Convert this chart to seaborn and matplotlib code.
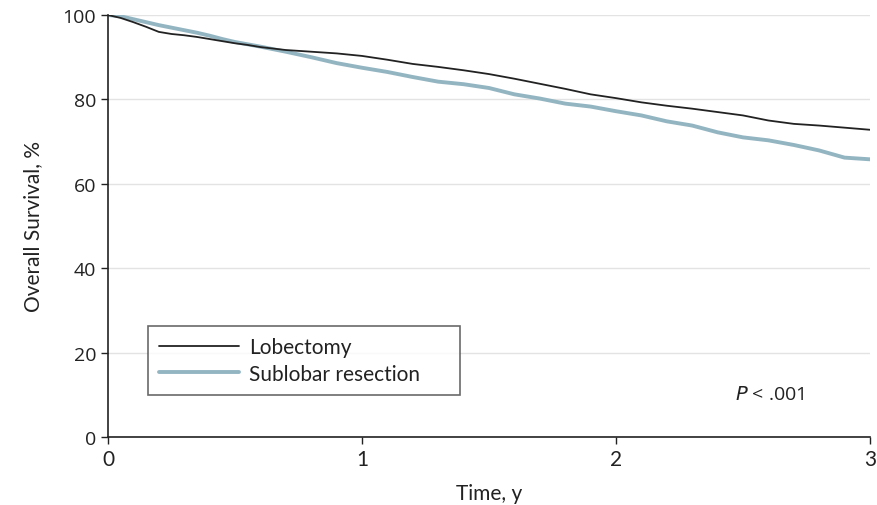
import matplotlib
matplotlib.use("Agg")
import matplotlib.pyplot as plt
import seaborn as sns
import pandas as pd

# Data (Kaplan-Meier style survival, %)
time_lob = [0, 0.05, 0.1, 0.15, 0.2, 0.25, 0.3, 0.35, 0.4, 0.45, 0.5, 0.55, 0.6, 0.7, 0.8, 0.9,
            1.0, 1.1, 1.2, 1.3, 1.4, 1.5, 1.6, 1.7, 1.8, 1.9, 2.0, 2.1, 2.2, 2.3, 2.4, 2.5,
            2.6, 2.7, 2.8, 2.9, 3.0]
surv_lob = [100, 99.3, 98.3, 97.2, 96.0, 95.5, 95.2, 94.8, 94.3, 93.8, 93.3, 92.9, 92.4, 91.7, 91.3, 90.9,
            90.3, 89.4, 88.4, 87.7, 86.9, 86.0, 84.9, 83.7, 82.5, 81.2, 80.3, 79.3, 78.5, 77.8, 77.0, 76.2,
            75.0, 74.2, 73.8, 73.3, 72.8]
time_sub = [0, 0.05, 0.1, 0.15, 0.2, 0.25, 0.3, 0.35, 0.4, 0.45, 0.5, 0.6, 0.7, 0.8, 0.9,
            1.0, 1.1, 1.2, 1.3, 1.4, 1.5, 1.6, 1.7, 1.8, 1.9, 2.0, 2.1, 2.2, 2.3, 2.4, 2.5,
            2.6, 2.7, 2.8, 2.9, 3.0]
surv_sub = [100, 99.7, 99.0, 98.3, 97.6, 97.0, 96.4, 95.8, 95.1, 94.3, 93.6, 92.5, 91.3, 90.0, 88.6,
            87.5, 86.5, 85.3, 84.2, 83.6, 82.7, 81.2, 80.2, 79.0, 78.3, 77.2, 76.2, 74.8, 73.8, 72.2, 71.0,
            70.3, 69.2, 67.9, 66.2, 65.8]
groups = ["Lobectomy", "Sublobar resection"]
x_ticks = [0, 1, 2, 3]
y_ticks = [0, 20, 40, 60, 80, 100]

df = pd.concat([
    pd.DataFrame({"Time": time_lob, "Survival": surv_lob, "Group": groups[0]}),
    pd.DataFrame({"Time": time_sub, "Survival": surv_sub, "Group": groups[1]}),
])

sns.set_theme(style="white")
plt.rcParams["font.family"] = ["Lato", "DejaVu Sans"]

fig = plt.figure(figsize=(8.77, 5.06), dpi=100)
ax = fig.add_axes([0.1231, 0.1344, 0.8689, 0.834])

palette = {groups[0]: "#222222", groups[1]: "#93b5c2"}
widths = {groups[0]: 1.3, groups[1]: 2.8}
for g in [groups[1], groups[0]]:
    sub = df[df["Group"] == g]
    sns.lineplot(data=sub, x="Time", y="Survival", ax=ax, color=palette[g],
                 linewidth=widths[g], label=g, estimator=None)

ax.set_xlim(0, 3)
ax.set_ylim(0, 100)
ax.set_xticks(x_ticks)
ax.set_yticks(y_ticks)
ax.yaxis.grid(True, color="#e3e3e3", linewidth=1)
ax.set_axisbelow(True)
for s in ["top", "right"]:
    ax.spines[s].set_visible(False)
for s in ["left", "bottom"]:
    ax.spines[s].set_color("#222222")
    ax.spines[s].set_linewidth(1.2)
ax.tick_params(axis="both", direction="out", length=5, width=1, color="#222222",
               bottom=True, left=True, colors="#222222")
for lab in ax.get_yticklabels():
    lab.set_family(["Open Sans", "DejaVu Sans"])
    lab.set_fontsize(14)
for lab in ax.get_xticklabels():
    lab.set_fontsize(15)

ax.set_xlabel("Time, y", fontsize=15, color="#222222", labelpad=10)
ax.set_ylabel("Overall Survival, %", fontsize=15, color="#222222", labelpad=14)

handles, labels = ax.get_legend_handles_labels()
order = [labels.index(groups[0]), labels.index(groups[1])]
leg = ax.legend([handles[i] for i in order], [labels[i] for i in order],
                loc="lower left", bbox_to_anchor=(0.0525, 0.0995, 0.41, 0.168),
                mode="expand", frameon=True, fancybox=False, fontsize=15,
                handlelength=3.8, borderpad=0.55, labelspacing=0.3, handletextpad=0.5,
                borderaxespad=0)
leg._legend_box.align = "left"
leg.get_frame().set_edgecolor("#444444")
leg.get_frame().set_linewidth(1.2)
for t in leg.get_texts():
    t.set_color("#222222")

ax.text(2.47, 10.2, "$P$ < .001", fontsize=14, color="#222222", va="center", ha="left",
        family=["Open Sans", "DejaVu Sans"])

fig.savefig("out.png", dpi=100)
